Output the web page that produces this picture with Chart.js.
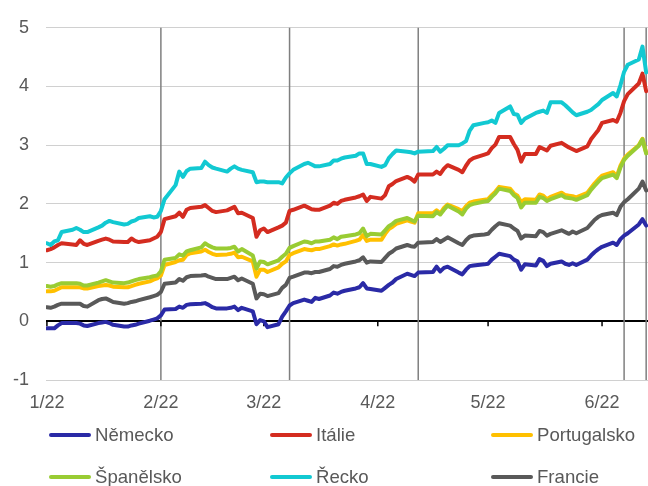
<!DOCTYPE html>
<html>
<head>
<meta charset="utf-8">
<script src="https://cdn.jsdelivr.net/npm/chart.js@4"></script>
<style>
  body { margin: 0; background: #fff; }
  #wrap { position: relative; width: 648px; height: 486px; }
  #legend { position: absolute; left: 0; top: 0; width: 648px; height: 486px; pointer-events: none;
            font-family: "Liberation Sans", Arial, sans-serif; font-size: 18.6px; color: #595959; }
  .item { position: absolute; height: 24px; line-height: 24px; white-space: nowrap; }
  .item span.swatch { position: absolute; left: 0; top: 10px; width: 42px; height: 4px; border-radius: 2px; }
  .item span.text { position: absolute; left: 46px; top: 0; }
</style>
</head>
<body>
<div id="wrap">
  <canvas id="chart" width="648" height="486"></canvas>
  <div id="legend"></div>
</div>
<script>
const dates = [
    "2022-01-03", "2022-01-04", "2022-01-05", "2022-01-06", "2022-01-07",
    "2022-01-10", "2022-01-11", "2022-01-12", "2022-01-13", "2022-01-14",
    "2022-01-17", "2022-01-18", "2022-01-19", "2022-01-20", "2022-01-21",
    "2022-01-24", "2022-01-25", "2022-01-26", "2022-01-27", "2022-01-28",
    "2022-01-31", "2022-02-01", "2022-02-02", "2022-02-03", "2022-02-04",
    "2022-02-07", "2022-02-08", "2022-02-09", "2022-02-10", "2022-02-11",
    "2022-02-14", "2022-02-15", "2022-02-16", "2022-02-17", "2022-02-18",
    "2022-02-21", "2022-02-22", "2022-02-23", "2022-02-24", "2022-02-25",
    "2022-02-28", "2022-03-01", "2022-03-02", "2022-03-03", "2022-03-04",
    "2022-03-07", "2022-03-08", "2022-03-09", "2022-03-10", "2022-03-11",
    "2022-03-14", "2022-03-15", "2022-03-16", "2022-03-17", "2022-03-18",
    "2022-03-21", "2022-03-22", "2022-03-23", "2022-03-24", "2022-03-25",
    "2022-03-28", "2022-03-29", "2022-03-30", "2022-03-31", "2022-04-01",
    "2022-04-04", "2022-04-05", "2022-04-06", "2022-04-07", "2022-04-08",
    "2022-04-11", "2022-04-12", "2022-04-13", "2022-04-14", "2022-04-18",
    "2022-04-19", "2022-04-20", "2022-04-21", "2022-04-22", "2022-04-25",
    "2022-04-26", "2022-04-27", "2022-04-28", "2022-04-29", "2022-05-02",
    "2022-05-03", "2022-05-04", "2022-05-05", "2022-05-06", "2022-05-09",
    "2022-05-10", "2022-05-11", "2022-05-12", "2022-05-13", "2022-05-16",
    "2022-05-17", "2022-05-18", "2022-05-19", "2022-05-20", "2022-05-23",
    "2022-05-24", "2022-05-25", "2022-05-26", "2022-05-27", "2022-05-30",
    "2022-05-31", "2022-06-01", "2022-06-02", "2022-06-03", "2022-06-06",
    "2022-06-07", "2022-06-08", "2022-06-09", "2022-06-10", "2022-06-13",
    "2022-06-14", "2022-06-15"
];

const nemecko = [
    -0.12, -0.12, -0.12, -0.07, -0.03, -0.03, -0.03, -0.04, -0.07, -0.08,
    -0.03, -0.02, -0.01, -0.03, -0.06, -0.09, -0.09, -0.07, -0.06, -0.04,
    0.01, 0.03, 0.05, 0.10, 0.20, 0.21, 0.25, 0.23, 0.28, 0.29,
    0.30, 0.31, 0.28, 0.24, 0.22, 0.22, 0.23, 0.25, 0.19, 0.23,
    0.17, -0.05, 0.02, 0.00, -0.10, -0.05, 0.08, 0.17, 0.27, 0.31,
    0.37, 0.35, 0.33, 0.40, 0.38, 0.44, 0.49, 0.47, 0.50, 0.52,
    0.56, 0.58, 0.65, 0.56, 0.55, 0.52, 0.57, 0.62, 0.66, 0.72,
    0.81, 0.79, 0.77, 0.83, 0.84, 0.93, 0.85, 0.91, 0.93, 0.83,
    0.80, 0.88, 0.94, 0.95, 0.97, 0.98, 1.05, 1.10, 1.15, 1.11,
    1.05, 1.02, 0.88, 0.97, 0.95, 1.06, 1.03, 0.94, 0.98, 1.02,
    0.98, 0.96, 0.99, 0.96, 1.05, 1.12, 1.18, 1.23, 1.27, 1.34,
    1.30, 1.40, 1.46, 1.50, 1.65, 1.74, 1.63
];
const italie = [
    1.21, 1.23, 1.26, 1.30, 1.33, 1.31, 1.30, 1.38, 1.32, 1.30,
    1.37, 1.39, 1.41, 1.39, 1.36, 1.35, 1.35, 1.41, 1.37, 1.35,
    1.38, 1.41, 1.44, 1.52, 1.74, 1.79, 1.85, 1.78, 1.90, 1.93,
    1.95, 1.98, 1.93, 1.88, 1.86, 1.89, 1.92, 1.95, 1.84, 1.85,
    1.76, 1.44, 1.55, 1.58, 1.52, 1.60, 1.63, 1.68, 1.88, 1.90,
    1.97, 1.94, 1.91, 1.90, 1.90, 1.97, 2.02, 2.00, 2.05, 2.07,
    2.11, 2.13, 2.16, 2.05, 2.12, 2.09, 2.15, 2.30, 2.34, 2.39,
    2.46, 2.43, 2.38, 2.50, 2.50, 2.55, 2.51, 2.60, 2.66, 2.58,
    2.54, 2.65, 2.74, 2.78, 2.84, 2.86, 2.95, 3.01, 3.14, 3.14,
    3.02, 2.92, 2.72, 2.85, 2.85, 2.97, 2.94, 2.91, 2.99, 3.04,
    3.00, 2.96, 2.93, 2.90, 2.98, 3.10, 3.18, 3.26, 3.38, 3.43,
    3.40, 3.55, 3.75, 3.87, 4.05, 4.22, 3.92
];
const portugalsko = [
    0.51, 0.51, 0.52, 0.55, 0.58, 0.58, 0.58, 0.58, 0.56, 0.56,
    0.60, 0.61, 0.62, 0.61, 0.59, 0.58, 0.58, 0.60, 0.62, 0.64,
    0.68, 0.71, 0.73, 0.78, 0.96, 1.01, 1.04, 1.05, 1.13, 1.16,
    1.19, 1.22, 1.18, 1.15, 1.13, 1.14, 1.15, 1.17, 1.09, 1.10,
    1.02, 0.76, 0.88, 0.88, 0.84, 0.92, 0.98, 1.02, 1.13, 1.16,
    1.23, 1.22, 1.21, 1.23, 1.23, 1.28, 1.31, 1.29, 1.31, 1.32,
    1.37, 1.39, 1.47, 1.37, 1.39, 1.39, 1.49, 1.57, 1.61, 1.66,
    1.72, 1.70, 1.68, 1.84, 1.84, 1.89, 1.84, 1.93, 1.99, 1.91,
    1.88, 1.96, 2.02, 2.04, 2.07, 2.08, 2.15, 2.21, 2.29, 2.26,
    2.18, 2.14, 2.03, 2.08, 2.07, 2.16, 2.14, 2.08, 2.12, 2.19,
    2.15, 2.14, 2.13, 2.11, 2.19, 2.27, 2.35, 2.42, 2.48, 2.54,
    2.47, 2.65, 2.77, 2.84, 3.00, 3.11, 2.87
];
const spanelsko = [
    0.60, 0.59, 0.60, 0.63, 0.65, 0.65, 0.65, 0.64, 0.61, 0.61,
    0.66, 0.68, 0.70, 0.68, 0.66, 0.65, 0.66, 0.68, 0.70, 0.72,
    0.75, 0.77, 0.78, 0.85, 1.05, 1.08, 1.14, 1.12, 1.19, 1.21,
    1.26, 1.33, 1.29, 1.26, 1.24, 1.24, 1.25, 1.27, 1.19, 1.23,
    1.12, 0.90, 1.02, 1.01, 0.97, 1.04, 1.10, 1.15, 1.25, 1.28,
    1.36, 1.35, 1.33, 1.36, 1.36, 1.39, 1.43, 1.40, 1.44, 1.45,
    1.48, 1.50, 1.58, 1.45, 1.49, 1.48, 1.55, 1.62, 1.66, 1.71,
    1.76, 1.73, 1.70, 1.80, 1.79, 1.86, 1.82, 1.90, 1.97, 1.87,
    1.82, 1.92, 1.98, 2.00, 2.04, 2.05, 2.12, 2.18, 2.26, 2.22,
    2.15, 2.10, 1.94, 2.02, 2.02, 2.12, 2.10, 2.05, 2.08, 2.15,
    2.11, 2.10, 2.09, 2.07, 2.15, 2.24, 2.31, 2.38, 2.44, 2.50,
    2.44, 2.62, 2.75, 2.82, 2.99, 3.10, 2.86
];
const recko = [
    1.33, 1.30, 1.36, 1.38, 1.52, 1.56, 1.59, 1.56, 1.52, 1.52,
    1.60, 1.63, 1.68, 1.71, 1.69, 1.65, 1.66, 1.70, 1.72, 1.76,
    1.79, 1.77, 1.78, 1.88, 2.08, 2.32, 2.55, 2.46, 2.56, 2.60,
    2.61, 2.72, 2.66, 2.62, 2.60, 2.55, 2.60, 2.64, 2.60, 2.58,
    2.54, 2.37, 2.38, 2.38, 2.37, 2.37, 2.35, 2.45, 2.52, 2.58,
    2.68, 2.70, 2.67, 2.64, 2.64, 2.68, 2.74, 2.74, 2.77, 2.79,
    2.82, 2.86, 2.86, 2.68, 2.68, 2.63, 2.66, 2.78, 2.85, 2.91,
    2.89, 2.88, 2.86, 2.89, 2.90, 2.97, 2.89, 2.94, 3.00, 3.00,
    3.03, 3.07, 3.25, 3.34, 3.38, 3.39, 3.42, 3.38, 3.55, 3.66,
    3.53, 3.52, 3.38, 3.45, 3.55, 3.57, 3.59, 3.55, 3.73, 3.73,
    3.68, 3.62, 3.56, 3.51, 3.57, 3.60, 3.65, 3.70, 3.77, 3.89,
    3.83, 4.02, 4.25, 4.37, 4.46, 4.68, 4.24
];
const francie = [
    0.24, 0.23, 0.25, 0.28, 0.30, 0.30, 0.30, 0.30, 0.26, 0.25,
    0.36, 0.38, 0.39, 0.36, 0.33, 0.30, 0.31, 0.33, 0.34, 0.36,
    0.41, 0.43, 0.45, 0.50, 0.64, 0.66, 0.72, 0.69, 0.75, 0.77,
    0.78, 0.79, 0.76, 0.74, 0.72, 0.72, 0.74, 0.76, 0.70, 0.73,
    0.64, 0.39, 0.47, 0.46, 0.43, 0.48, 0.57, 0.62, 0.74, 0.76,
    0.83, 0.83, 0.82, 0.84, 0.84, 0.89, 0.94, 0.93, 0.96, 0.98,
    1.02, 1.04, 1.09, 1.00, 1.02, 1.01, 1.08, 1.15, 1.19, 1.24,
    1.30, 1.28, 1.27, 1.34, 1.35, 1.40, 1.35, 1.39, 1.43, 1.33,
    1.30, 1.38, 1.44, 1.46, 1.48, 1.49, 1.56, 1.62, 1.67, 1.63,
    1.58, 1.54, 1.41, 1.46, 1.45, 1.54, 1.52, 1.46, 1.49, 1.55,
    1.52, 1.49, 1.53, 1.50, 1.59, 1.66, 1.73, 1.78, 1.81, 1.85,
    1.81, 1.95, 2.03, 2.08, 2.26, 2.38, 2.23
];

const seriesNames = ["Německo", "Itálie", "Portugalsko", "Španělsko", "Řecko", "Francie"];
const seriesColors = ["#2A2AA6", "#D42C20", "#FFC000", "#99CC33", "#12C9D2", "#595959"];

// month labels sit on the same day of each month as the first date
const tickDates = ["2022-01-03", "2022-02-03", "2022-03-03", "2022-04-03", "2022-05-03", "2022-06-03"];
const tickLabels = ["1/22", "2/22", "3/22", "4/22", "5/22", "6/22"];

// ECB meetings, drawn as vertical lines
const ecbDates = ["2022-02-03", "2022-03-10", "2022-04-14", "2022-06-09", "2022-06-15"];

const startTime = Date.UTC(2022, 0, 3);
function dayOf(s) {
    const p = s.split("-").map(Number);
    return (Date.UTC(p[0], p[1] - 1, p[2]) - startTime) / 86400000;
}

const xs = dates.map(dayOf);
const tickDays = tickDates.map(dayOf);
const ecbDays = ecbDates.map(dayOf);
const allValues = [nemecko, italie, portugalsko, spanelsko, recko, francie];

const datasets = allValues.map((vals, i) => ({
    label: seriesNames[i],
    data: vals.map((v, j) => ({ x: xs[j], y: v })),
    borderColor: seriesColors[i],
    backgroundColor: seriesColors[i],
    borderWidth: 4,
    borderJoinStyle: "round",
    borderCapStyle: "round",
    pointRadius: 0,
    tension: 0,
    // later series on top, like the original
    order: allValues.length - 1 - i
}));

const markerPlugin = {
    id: "markers",
    beforeDatasetsDraw(chart) {
        const ctx = chart.ctx;
        const area = chart.chartArea;
        const xScale = chart.scales.x;
        const yScale = chart.scales.y;
        ctx.save();
        ctx.strokeStyle = "#7F7F7F";
        ctx.lineWidth = 1.5;
        for (const d of ecbDays) {
            const px = xScale.getPixelForValue(d);
            ctx.beginPath();
            ctx.moveTo(px, area.top);
            ctx.lineTo(px, area.bottom);
            ctx.stroke();
        }
        const y0 = yScale.getPixelForValue(0);
        ctx.strokeStyle = "#000";
        ctx.lineWidth = 1.5;
        for (const d of tickDays) {
            const px = xScale.getPixelForValue(d);
            ctx.beginPath();
            ctx.moveTo(px, y0);
            ctx.lineTo(px, y0 + 5);
            ctx.stroke();
        }
        ctx.restore();
    }
};

Chart.defaults.font.family = '"Liberation Sans", Arial, sans-serif';
Chart.defaults.font.size = 18;
Chart.defaults.color = "#595959";

const chart = new Chart(document.getElementById("chart").getContext("2d"), {
    type: "line",
    data: { datasets: datasets },
    options: {
        responsive: false,
        animation: false,
        layout: { padding: { top: 18, right: 0, bottom: 0, left: 0 } },
        plugins: { legend: { display: false }, tooltip: { enabled: false } },
        scales: {
            x: {
                type: "linear",
                min: -0.25,
                max: 163.5,
                grid: { display: false, drawTicks: false },
                border: { display: false },
                afterBuildTicks: scale => { scale.ticks = tickDays.map(v => ({ value: v })); },
                afterFit: scale => { scale.height = 106; },
                ticks: {
                    autoSkip: false,
                    maxRotation: 0,
                    padding: 12,
                    callback: v => tickLabels[tickDays.indexOf(v)]
                }
            },
            y: {
                min: -1,
                max: 5,
                grid: {
                    drawTicks: false,
                    color: c => (c.tick && c.tick.value === 0 ? "#000" : "#D0D0D0"),
                    lineWidth: c => (c.tick && c.tick.value === 0 ? 2 : 1)
                },
                border: { display: false },
                afterFit: scale => { scale.width = 46; },
                ticks: { stepSize: 1, padding: 17 }
            }
        }
    },
    plugins: [markerPlugin]
});

// legend in three columns below the chart
const legend = document.getElementById("legend");
const colX = [49, 270, 491];
const rowY = [423, 465];
chart.data.datasets.forEach((ds, i) => {
    const item = document.createElement("div");
    item.className = "item";
    item.style.left = colX[i % 3] + "px";
    item.style.top = rowY[Math.floor(i / 3)] + "px";
    const sw = document.createElement("span");
    sw.className = "swatch";
    sw.style.background = ds.borderColor;
    const tx = document.createElement("span");
    tx.className = "text";
    tx.textContent = ds.label;
    item.appendChild(sw);
    item.appendChild(tx);
    legend.appendChild(item);
});
</script>
</body>
</html>
